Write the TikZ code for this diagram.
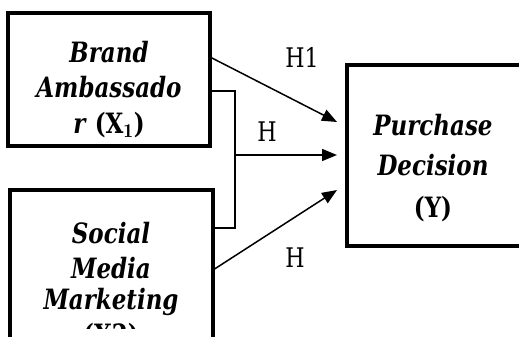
\documentclass[tikz,border=0pt]{standalone}
\usepackage{fontspec}
\newfontfamily\varfont[FakeStretch=0.82]{DejaVu Serif}
\usetikzlibrary{arrows.meta}
\begin{document}
\begin{tikzpicture}[x=1pt,y=-1pt,
  box/.style={draw, line width=4.5pt, inner sep=0pt, outer sep=0pt},
  varline/.style={font=\varfont\bfseries\itshape\fontsize{28}{32}\selectfont, anchor=base, inner sep=0pt},
  codeline/.style={font=\varfont\bfseries\fontsize{28}{32}\selectfont, anchor=base, inner sep=0pt},
  hyp/.style={font=\varfont\fontsize{27}{30}\selectfont, inner sep=0pt},
  link/.style={line width=1.5pt},
  arr/.style={link, -{Triangle[length=15pt,width=12pt]}}]
\useasboundingbox (0,0) rectangle (519,337);
\clip (0,0) rectangle (519,337);

% construct boxes
\node[box, minimum width=202pt, minimum height=133pt] (b1) at (109,79.5) {};
\node[box, minimum width=203pt, minimum height=220pt] (b2) at (111.5,300) {};
\node[box, minimum width=260pt, minimum height=181pt] (b3) at (477,155.5) {};

% box labels
\node[varline] (t1a) at (109,63) {Brand};
\node[varline] (t1b) at (109,97) {Ambassado};
\node[varline] (t1c) at (109,133) {r \textup{(X$_\mathbf{1}$)}};

\node[varline] (t2a) at (111,243) {Social};
\node[varline] (t2b) at (111,278) {Media};
\node[varline] (t2c) at (111,309) {Marketing};
\begin{scope}
  \clip (0,0) rectangle (519,328);
  \node[codeline] (t2d) at (111,344) {(X2)};
\end{scope}

\node[varline] (t3a) at (433,135) {Purchase};
\node[varline] (t3b) at (433,175) {Decision};
\node[codeline] (t3c) at (433,217) {(Y)};

% connection points
\coordinate (p1) at (b1.east |- 0,57);
\coordinate (q1) at (337,122);
\coordinate (p2) at (b1.east |- 0,91);
\coordinate (j) at (235,155);
\coordinate (q2) at (337,155);
\coordinate (p3) at (b2.east |- 0,228);
\coordinate (p4) at (b2.east |- 0,270);
\coordinate (q3) at (337,190);

\draw[arr] (p1) -- (q1);
\draw[link] (p2) -| (j) |- (p3);
\draw[arr] (j) -- (q2);
\draw[arr] (p4) -- (q3);

% hypothesis labels
\node[hyp] (h1) at (302,57) {H1};
\node[hyp] (h2) at (267,132) {H};
\node[hyp] (h3) at (295,258) {H};
\end{tikzpicture}
\end{document}
